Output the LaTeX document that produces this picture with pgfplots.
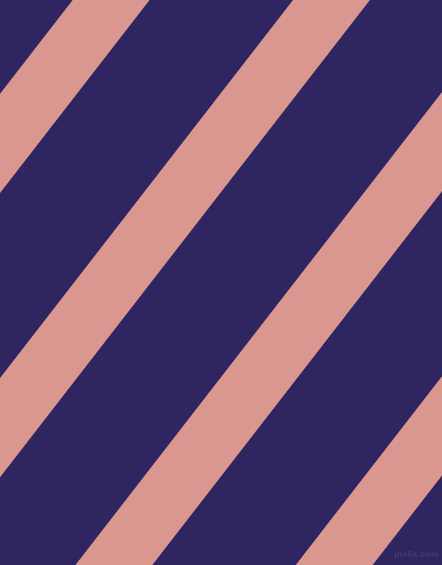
\documentclass[border=0pt]{standalone}
\usepackage{pgfplots}
\pgfplotsset{compat=1.18}
\usepackage{fontspec}
\setmainfont{DejaVu Sans}

\definecolor{navy}{RGB}{47,37,96}
\definecolor{salmon}{RGB}{217,151,143}
\definecolor{mark}{RGB}{68,58,114}

\begin{document}
\begin{tikzpicture}
	\begin{axis}[%
			width=442bp,
			height=565bp,
			scale only axis,
			hide axis,
			xmin=0, xmax=442,
			ymin=0, ymax=565,
			y dir=reverse,
			clip=true]

	% ground
	\addplot [fill=navy, draw=none, forget plot]
		coordinates{ (0,0) (442,0) (442,565) (0,565) } -- cycle;

	% stripes, left edge at top, slope about 0.775 px per px
	\addplot [fill=salmon, draw=none, forget plot]
		coordinates{ (72.8,0) (149.5,0) (-288.4,565) (-365.1,565) } -- cycle;
	\addplot [fill=salmon, draw=none, forget plot]
		coordinates{ (293.1,0) (369.8,0) (-68.1,565) (-144.8,565) } -- cycle;
	\addplot [fill=salmon, draw=none, forget plot]
		coordinates{ (513.4,0) (590.1,0) (152.2,565) (75.5,565) } -- cycle;
	\addplot [fill=salmon, draw=none, forget plot]
		coordinates{ (733.7,0) (810.4,0) (372.5,565) (295.8,565) } -- cycle;

	\node [text=mark, font=\bfseries\fontsize{8}{9}\selectfont, inner sep=0pt]
		at (axis cs:416.5,555) {pixlis.com};
	\end{axis}
\end{tikzpicture}
\end{document}
